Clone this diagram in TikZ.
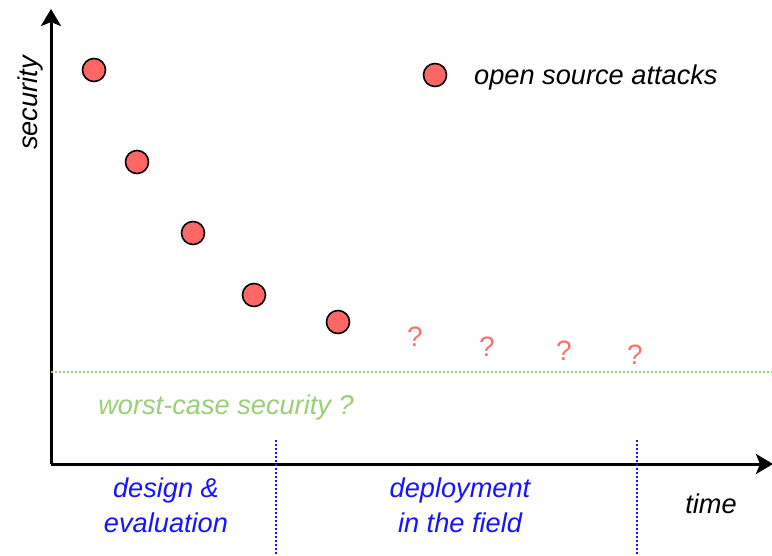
\documentclass[tikz,border=0pt]{standalone}
\usepackage{fontspec}
\setmainfont{Liberation Sans}
\usetikzlibrary{arrows.meta}
\definecolor{dotred}{RGB}{255,102,102}
\definecolor{qred}{RGB}{255,110,110}
\definecolor{wgreen}{RGB}{151,208,119}
\definecolor{phase}{RGB}{20,20,255}
\tikzset{
  axis/.style={line width=3pt, -{Stealth[length=17pt,width=20pt,inset=4pt]}},
  attack/.style={circle, draw=black, line width=1.6pt, fill=dotred, minimum size=23pt, inner sep=0pt},
  label/.style={inner sep=0pt, font=\fontsize{27.2}{33}\selectfont\itshape, align=center},
  qmark/.style={inner sep=0pt, text=qred, font=\fontsize{28}{33}\selectfont},
  phaseline/.style={draw=phase, line width=2pt, dash pattern=on 2pt off 2pt},
  floorline/.style={draw=wgreen, line width=2pt, dash pattern=on 2pt off 2pt}
}
\begin{document}
\begin{tikzpicture}[x=1pt,y=-1pt]
\useasboundingbox (0,0) rectangle (772,556);
% axes
\coordinate (origin) at (51,464);
\coordinate (ytop) at (51,9);
\coordinate (xend) at (773,464);
\draw[axis] (origin) -- (ytop);
\draw[axis] (origin) -- (xend);
\node[label, rotate=90] (ylab) at (30,103) {security};
\node[label] (xlab) at (711,504) {time};
% worst-case level
\coordinate (wcl) at (51,372);
\coordinate (wcr) at (772,372);
\draw[floorline] (wcl) -- (wcr);
\node[label, text=wgreen] (wc) at (226,407) {worst-case security ?};
% phase separators
\coordinate (s1t) at (276,440);
\coordinate (s1b) at (276,554);
\coordinate (s2t) at (637,440);
\coordinate (s2b) at (637,556);
\draw[phaseline] (s1t) -- (s1b);
\draw[phaseline] (s2t) -- (s2b);
\node[label, text=phase] (design) at (166,490) {design \&};
\node[label, text=phase] (eval) at (166,523) {evaluation};
\node[label, text=phase] (deploy) at (460,490) {deployment};
\node[label, text=phase] (field) at (460,523) {in the field};
% attacks
\node[attack] (a1) at (94,70) {};
\node[attack] (a2) at (137,162) {};
\node[attack] (a3) at (193,233) {};
\node[attack] (a4) at (254,295) {};
\node[attack] (a5) at (338,322) {};
% unknown future attacks
\node[qmark] (q1) at (415,337) {?};
\node[qmark] (q2) at (487,347) {?};
\node[qmark] (q3) at (564,351) {?};
\node[qmark] (q4) at (635,355) {?};
% legend
\node[attack] (leg) at (435,75) {};
\node[label, anchor=west] (legtxt) at (474,77) {open source attacks};
\end{tikzpicture}
\end{document}
